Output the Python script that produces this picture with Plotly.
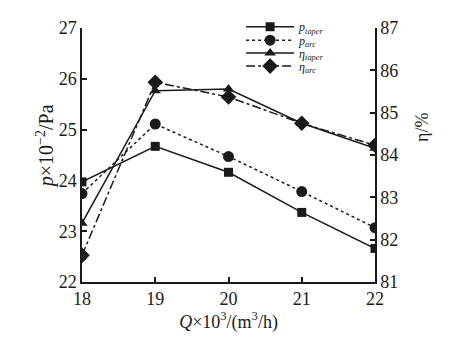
import plotly.graph_objects as go

Q = [18, 19, 20, 21, 22]
p_taper = [23.97, 24.67, 24.16, 23.37, 22.66]
p_arc = [23.74, 25.11, 24.47, 23.78, 23.07]
eta_taper = [82.39, 85.52, 85.56, 84.75, 84.16]
eta_arc = [81.63, 85.72, 85.37, 84.75, 84.23]

names = ["<i>p</i><sub><i>taper</i></sub>", "<i>p</i><sub><i>arc</i></sub>",
         "<i>η</i><sub><i>taper</i></sub>", "<i>η</i><sub><i>arc</i></sub>"]

C = "#1a1a1a"
FONT = "Liberation Serif, Times New Roman, serif"

fig = go.Figure()
fig.add_trace(go.Scatter(x=Q, y=p_taper, name=names[0], mode="lines+markers", legend="legend",
                         line=dict(color=C, width=1.5, dash="solid"),
                         marker=dict(symbol="square", size=9, color=C)))
fig.add_trace(go.Scatter(x=Q, y=p_arc, name=names[1], mode="lines+markers", legend="legend2",
                         line=dict(color=C, width=1.5, dash="dot"),
                         marker=dict(symbol="circle", size=11, color=C)))
fig.add_trace(go.Scatter(x=Q, y=eta_taper, name=names[2], mode="lines+markers", yaxis="y2",
                         legend="legend3",
                         line=dict(color=C, width=1.5, dash="solid"),
                         marker=dict(symbol="triangle-up", size=10, color=C)))
fig.add_trace(go.Scatter(x=Q, y=eta_arc, name=names[3], mode="lines+markers", yaxis="y2",
                         legend="legend4",
                         line=dict(color=C, width=1.5, dash="dashdot"),
                         marker=dict(symbol="diamond", size=12, color=C)))

axis_common = dict(showline=True, linecolor=C, linewidth=1.5, ticks="inside",
                   ticklen=5, tickwidth=1.5, tickcolor=C, showgrid=False, zeroline=False,
                   tickfont=dict(family=FONT, size=18, color=C))


def leg(y):
    return dict(x=0.543, y=y, xanchor="left", yanchor="middle",
                bgcolor="rgba(0,0,0,0)", font=dict(family=FONT, size=12, color=C),
                itemwidth=48)


fig.update_layout(
    width=450, height=342,
    margin=dict(l=82, r=75, t=23, b=60),
    paper_bgcolor="white", plot_bgcolor="white",
    font=dict(family=FONT, color=C),
    showlegend=True,
    legend=leg(1.005), legend2=leg(0.952), legend3=leg(0.902), legend4=leg(0.85),
    xaxis=dict(range=[18, 22], tickvals=Q, **axis_common,
               title=dict(text="<i>Q</i>×10<sup>3</sup>/(m<sup>3</sup>/h)",
                          font=dict(family=FONT, size=18, color=C), standoff=6)),
    yaxis=dict(range=[22, 27], dtick=1, **axis_common),
    yaxis2=dict(range=[81, 87], dtick=1, overlaying="y", side="right", **axis_common),
    annotations=[
        dict(text="<i>p</i>×10<sup>−2</sup>/Pa", xref="paper", yref="paper",
             x=-0.126, y=0.535, xanchor="center", yanchor="middle",
             textangle=-90, showarrow=False,
             font=dict(family=FONT, size=20, color=C)),
        dict(text="η/%", xref="paper", yref="paper", x=1.16, y=0.61,
             xanchor="center", yanchor="middle",
             textangle=-90, showarrow=False,
             font=dict(family=FONT, size=18, color=C))],
)

fig.write_html("out.html")
